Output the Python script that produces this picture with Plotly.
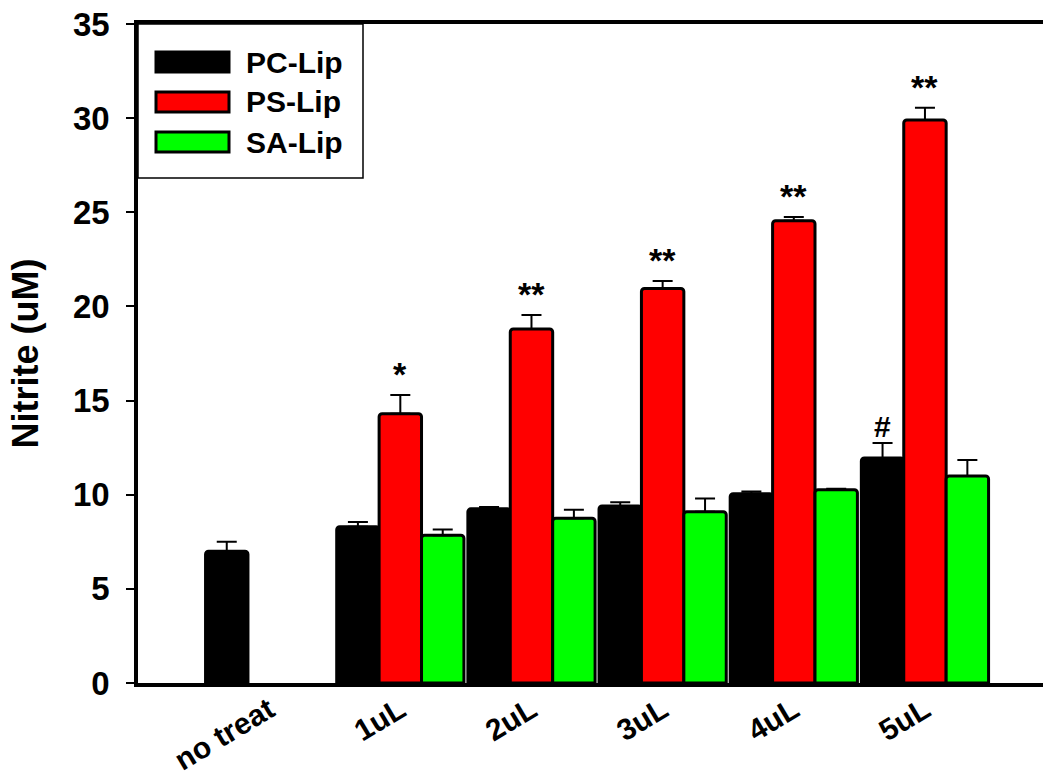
import plotly.graph_objects as go

# Nitrite production by liposome type and dose
categories = ["no treat", "1uL", "2uL", "3uL", "4uL", "5uL"]
series_names = ["PC-Lip", "PS-Lip", "SA-Lip"]
series_colors = ["#000000", "#ff0000", "#00ff00"]

pc_lip = [7.0, 8.3, 9.25, 9.4, 10.05, 11.95]
pc_err = [0.5, 0.25, 0.1, 0.2, 0.12, 0.8]
ps_lip = [None, 14.3, 18.8, 20.95, 24.55, 29.9]
ps_err = [0, 1.0, 0.75, 0.4, 0.2, 0.65]
sa_lip = [None, 7.85, 8.75, 9.1, 10.27, 11.0]
sa_err = [0, 0.3, 0.45, 0.7, 0.05, 0.85]

# significance marks
ps_marks = ["", "*", "**", "**", "**", "**"]
pc_marks = ["", "", "", "", "", "#"]

y_ticks = [0, 5, 10, 15, 20, 25, 30, 35]

FONT = "Liberation Sans, Arial, sans-serif"
W, H = 1043, 780
ML, MR, MT, MB = 138, 0, 24, 97
BARGAP = 0.03
bar_w = (1 - BARGAP) / 3

xpos = list(range(len(categories)))
values = [pc_lip, ps_lip, sa_lip]
errors = [pc_err, ps_err, sa_err]

fig = go.Figure()
for name, color, vals, errs in zip(series_names, series_colors, values, errors):
    fig.add_trace(go.Bar(
        x=xpos, y=vals, name=name,
        marker=dict(color=color, line=dict(color="black", width=3), cornerradius=3),
        error_y=dict(type="data", array=errs, arrayminus=[0] * len(errs),
                     symmetric=False, color="black", thickness=2, width=10),
        showlegend=False,
    ))

annotations = []
for i, (m, v, e) in enumerate(zip(ps_marks, ps_lip, ps_err)):
    if m:
        annotations.append(dict(x=xpos[i], y=v + e, text=m, showarrow=False,
                                xref="x", yref="y", yanchor="bottom", yshift=0,
                                font=dict(family=FONT, size=34, color="black", weight="bold")))
for i, (m, v, e) in enumerate(zip(pc_marks, pc_lip, pc_err)):
    if m:
        annotations.append(dict(x=xpos[i] - bar_w, y=v + e, text=m, showarrow=False,
                                xref="x", yref="y", yanchor="bottom", yshift=-2,
                                font=dict(family=FONT, size=30, color="black", weight="bold")))

# legend drawn as a framed box with wide swatches
pw, ph = W - ML - MR, H - MT - MB
def px_x(p):
    return (p - ML) / pw
def px_y(p):
    return (H - MB - p) / ph

shapes = [dict(type="rect", xref="paper", yref="paper",
               x0=px_x(138), x1=px_x(363), y0=px_y(178), y1=px_y(24),
               line=dict(color="black", width=1.5), fillcolor="white", layer="above")]
for k, (name, color) in enumerate(zip(series_names, series_colors)):
    cy = 62 + 40 * k
    shapes.append(dict(type="rect", xref="paper", yref="paper",
                       x0=px_x(156), x1=px_x(229), y0=px_y(cy + 10), y1=px_y(cy - 10),
                       line=dict(color="black", width=3), fillcolor=color, layer="above"))
    annotations.append(dict(x=px_x(244), y=px_y(cy), xref="paper", yref="paper",
                            text=name, showarrow=False, xanchor="left", yanchor="middle",
                            font=dict(family=FONT, size=30, color="black", weight="bold")))

fig.update_layout(
    width=W, height=H,
    margin=dict(l=ML, r=MR, t=MT, b=MB),
    paper_bgcolor="white", plot_bgcolor="white",
    barmode="group", bargap=BARGAP, bargroupgap=0,
    font=dict(family=FONT, color="black"),
    shapes=shapes, annotations=annotations,
    xaxis=dict(
        range=[-1.0, 5.9], tickvals=xpos, ticktext=categories, automargin=False,
        tickangle=-31, ticks="", showgrid=False, zeroline=False,
        showline=True, linecolor="black", linewidth=3.5, mirror=True,
        tickfont=dict(family=FONT, size=30, weight="bold"), ticklabelstandoff=-6,
    ),
    yaxis=dict(
        range=[0, 35], tickvals=y_ticks, ticks="outside", ticklen=8, tickwidth=1.5,
        automargin=False,
        tickcolor="black", showgrid=False, zeroline=False,
        showline=True, linecolor="black", linewidth=3.5,
        tickfont=dict(family=FONT, size=33, weight="bold"), ticklabelstandoff=10,
        title=dict(text="Nitrite (uM)", standoff=24,
                   font=dict(family=FONT, size=36, weight="bold")),
    ),
)

fig.write_html("out.html")
